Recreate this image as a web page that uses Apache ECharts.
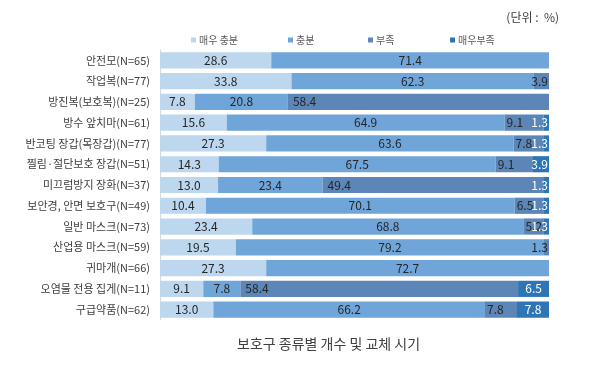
<!DOCTYPE html>
<html><head><meta charset="utf-8">
<script src="https://cdn.jsdelivr.net/npm/echarts@6/dist/echarts.min.js"></script>
<style>html,body{margin:0;padding:0;background:#fff}#c{width:600px;height:367px}</style>
</head><body><div id="c"></div>
<script>
const categories = ['안전모(N=65)','작업복(N=77)','방진복(보호복)(N=25)','방수 앞치마(N=61)','반코팅 장갑(목장갑)(N=77)','찔림·절단보호 장갑(N=51)','미끄럼방지 장화(N=37)','보안경, 안면 보호구(N=49)','일반 마스크(N=73)','산업용 마스크(N=59)','귀마개(N=66)','오염물 전용 집게(N=11)','구급약품(N=62)'];
const seriesNames = ['매우 충분','충분','부족','매우부족'];
const veryEnough = [28.6,33.8,7.8,15.6,27.3,14.3,13.0,10.4,23.4,19.5,27.3,9.1,13.0];
const enough     = [71.4,62.3,20.8,64.9,63.6,67.5,23.4,70.1,68.8,79.2,72.7,7.8,66.2];
const lacking    = [0,3.9,58.4,9.1,7.8,9.1,49.4,6.5,5.2,1.3,0,58.4,7.8];
const veryLack   = [0,0,0,1.3,1.3,3.9,1.3,1.3,1.3,0,0,6.5,7.8];
const colors = ['#bdd7ee','#70a5d9','#5b86b7','#2e75b6'];
const raw = [veryEnough, enough, lacking, veryLack];
const totals = categories.map((_,i)=>raw.reduce((s,a)=>s+a[i],0));
const leftLabel = {2:[2,6,11]};
const isLast = (si,i)=>raw.slice(si+1).every(a=>a[i]===0);
const series = raw.map((arr,si)=>({
  name: seriesNames[si], type:'bar', stack:'t', barCategoryGap:'22%',
  itemStyle:{color:colors[si]},
  label:{show:true, position:'inside', color: si===3?'#ffffff':'#262626', fontSize:12, overflow:'none',
    formatter:p=>p.data.raw.toFixed(1)},
  labelLayout:{hideOverlap:false},
  data: arr.map((v,i)=>{
    const d={value: v===0?null:v/totals[i]*100, raw:v};
    if(leftLabel[si] && leftLabel[si].includes(i)) d.label={position:'insideLeft', offset:[-4,0]};
    else if(v>0 && v<4 && isLast(si,i)) d.label={position:'insideRight', distance:1, offset:[0,0]};
    else if(si===2 && v>=4 && v<10 && !isLast(si,i)) d.label={position:'insideLeft', distance:2};
    return d;
  })
}));
const legendX=[186,283,363,445];
const chart = echarts.init(document.getElementById('c'));
chart.setOption({
  animation:false,
  textStyle:{fontFamily:'Noto Sans CJK KR'},
  title:[{text:'(단위 :  %)', right:36, top:6, textStyle:{fontSize:12, fontWeight:'normal', color:'#404040'}},
         {text:'보호구 종류별 개수 및 교체 시기', left:232, top:332, textStyle:{fontSize:14, fontWeight:'normal', color:'#404040'}}],
  legend: seriesNames.map((n,i)=>({data:[n], left:legendX[i], top:30, icon:'rect', itemWidth:5, itemHeight:5, itemGap:3,
    textStyle:{fontSize:10, color:'#595959', padding:[0,0,0,-2]}})),
  grid:{left:160, right:51, top:50, height:270},
  xAxis:{type:'value', min:0, max:100, show:false},
  yAxis:{type:'category', data:categories, inverse:true,
    axisLine:{show:true, lineStyle:{color:'#d9d9d9'}}, axisTick:{show:false},
    axisLabel:{fontSize:11, color:'#404040', margin:10}},
  series
});
</script></body></html>
